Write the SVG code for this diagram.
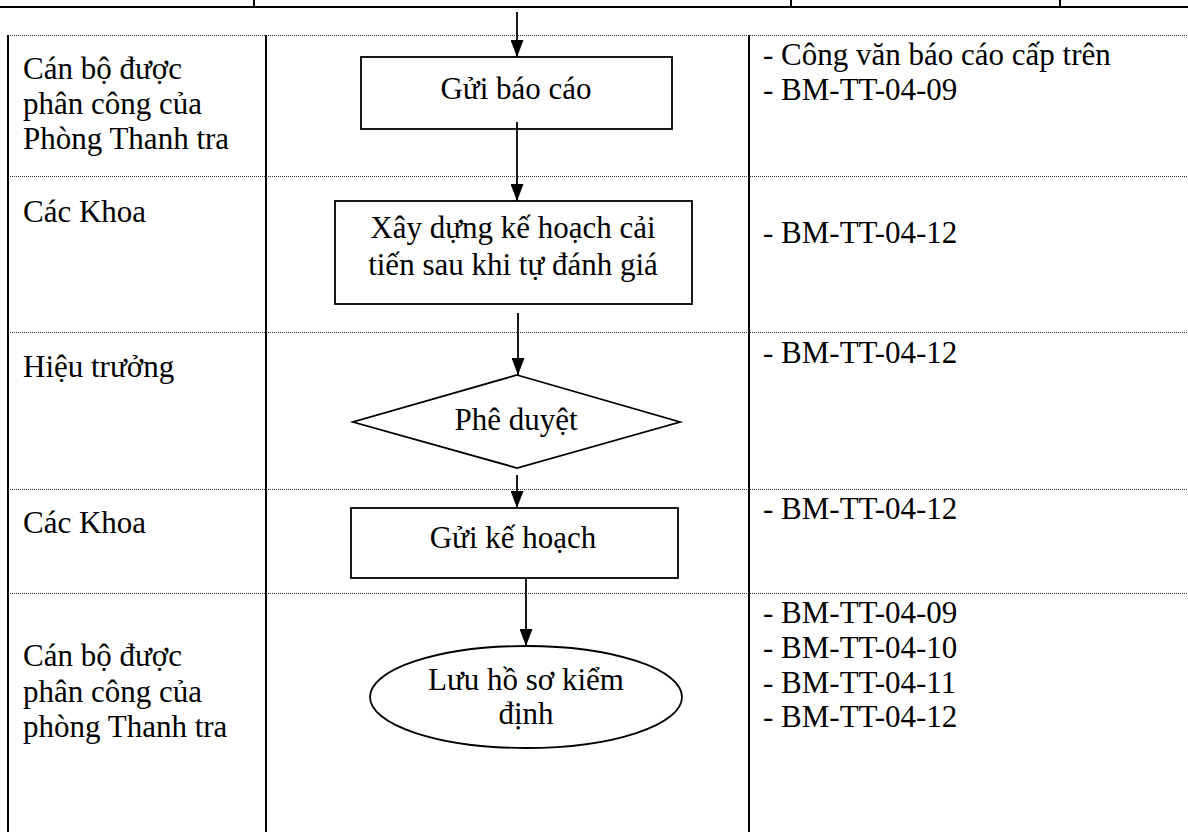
<svg xmlns="http://www.w3.org/2000/svg" width="1188" height="832" viewBox="0 0 1188 832">
<defs>
<marker id="arr" markerUnits="userSpaceOnUse" markerWidth="17" markerHeight="13" refX="17" refY="6.5" orient="auto"><path d="M0,0 L17,6.5 L0,13 Z" fill="#000"/></marker>
<style>
.t{font-family:"Liberation Serif","Times New Roman",serif;font-size:31px;fill:#000}
.c{text-anchor:middle}
.solid{stroke:#000;stroke-width:2;fill:none}
.dot{stroke:#333;stroke-width:1;stroke-dasharray:1,1;fill:none}
.shape{stroke:#000;stroke-width:1.8;fill:#fff}
.conn{stroke:#000;stroke-width:1.8;fill:none;marker-end:url(#arr)}
</style>
</defs>
<rect width="1188" height="832" fill="#fff"/>
<g id="table">
<line class="solid" x1="0" y1="7" x2="1188" y2="7"/>
<line class="solid" x1="254" y1="0" x2="254" y2="7"/>
<line class="solid" x1="791" y1="0" x2="791" y2="7"/>
<line class="solid" x1="1060" y1="0" x2="1060" y2="7"/>
<line class="dot" x1="8" y1="35.5" x2="1188" y2="35.5"/>
<line class="dot" x1="8" y1="176.5" x2="1188" y2="176.5"/>
<line class="dot" x1="8" y1="332.5" x2="1188" y2="332.5"/>
<line class="dot" x1="8" y1="489.5" x2="1188" y2="489.5"/>
<line class="dot" x1="8" y1="593.5" x2="1188" y2="593.5"/>
<line class="solid" x1="8" y1="35" x2="8" y2="832"/>
<line class="solid" x1="266" y1="35" x2="266" y2="832"/>
<line class="solid" x1="749" y1="35" x2="749" y2="832"/>
</g>
<g id="lane-labels">
<text class="t" x="23" y="79">Cán bộ được</text>
<text class="t" x="23" y="114">phân công của</text>
<text class="t" x="23" y="149">Phòng Thanh tra</text>
<text class="t" x="23" y="222">Các Khoa</text>
<text class="t" x="23" y="377">Hiệu trưởng</text>
<text class="t" x="23" y="533">Các Khoa</text>
<text class="t" x="23" y="666">Cán bộ được</text>
<text class="t" x="23" y="702">phân công của</text>
<text class="t" x="23" y="737">phòng Thanh tra</text>
</g>
<g id="documents">
<text class="t" x="763" y="65">- Công văn báo cáo cấp trên</text>
<text class="t" x="763" y="100">- BM-TT-04-09</text>
<text class="t" x="763" y="243">- BM-TT-04-12</text>
<text class="t" x="763" y="363">- BM-TT-04-12</text>
<text class="t" x="763" y="519">- BM-TT-04-12</text>
<text class="t" x="763" y="623">- BM-TT-04-09</text>
<text class="t" x="763" y="658">- BM-TT-04-10</text>
<text class="t" x="763" y="693">- BM-TT-04-11</text>
<text class="t" x="763" y="727">- BM-TT-04-12</text>
</g>
<g id="connectors">
<line class="conn" x1="517" y1="12" x2="517" y2="57"/>
<line class="conn" x1="517" y1="122" x2="517" y2="201"/>
<line class="conn" x1="518" y1="313" x2="518" y2="375"/>
<line class="conn" x1="517" y1="475" x2="517" y2="508"/>
<line class="conn" x1="526" y1="577" x2="526" y2="646"/>
</g>
<g id="n1">
<rect class="shape" x="361" y="57" width="311" height="72" style="fill:none"/>
<text class="t c" x="516" y="99">Gửi báo cáo</text>
</g>
<g id="n2">
<rect class="shape" x="335" y="201" width="357" height="103"/>
<text class="t c" x="513" y="238">Xây dựng kế hoạch cải</text>
<text class="t c" x="513" y="275">tiến sau khi tự đánh giá</text>
</g>
<g id="n3">
<polygon class="shape" points="517,375 680,422 517,468 353,422"/>
<text class="t c" x="516" y="430">Phê duyệt</text>
</g>
<g id="n4">
<rect class="shape" x="351" y="508" width="327" height="70"/>
<text class="t c" x="513" y="548">Gửi kế hoạch</text>
</g>
<g id="n5">
<ellipse class="shape" cx="526" cy="697" rx="156" ry="51"/>
<text class="t c" x="526" y="690">Lưu hồ sơ kiểm</text>
<text class="t c" x="526" y="724">định</text>
</g>
</svg>
